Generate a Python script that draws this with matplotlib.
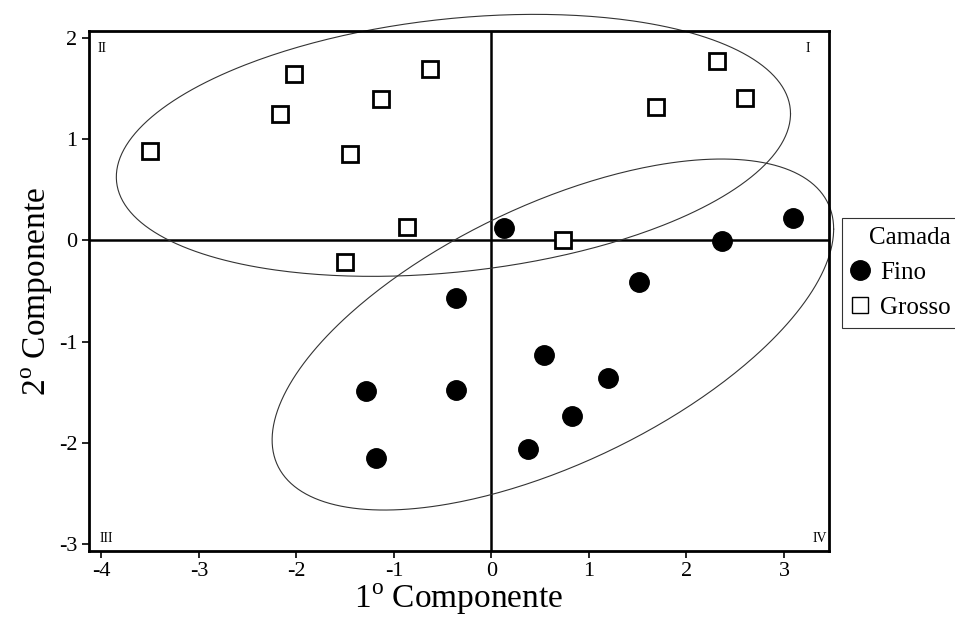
import numpy as np
import matplotlib.pyplot as plt

plt.rcParams['font.family'] = ['Liberation Serif', 'DejaVu Serif']
plt.rcParams['mathtext.fontset'] = 'custom'
plt.rcParams['mathtext.rm'] = 'Liberation Serif'
plt.rcParams['axes.unicode_minus'] = False

# Camada "Fino" (círculos cheios)
fino_x = [0.13, 3.09, 2.36, 1.51, -0.36, -1.29, -0.36, -1.18, 0.54, 1.20, 0.83, 0.37]
fino_y = [0.12, 0.22, -0.01, -0.41, -0.57, -1.49, -1.48, -2.15, -1.13, -1.36, -1.74, -2.06]

# Camada "Grosso" (quadrados vazios)
grosso_x = [-3.50, -2.02, -2.17, -0.63, -1.13, -1.45, -0.87, -1.50, 2.31, 2.60, 1.69, 0.73]
grosso_y = [0.88, 1.65, 1.25, 1.69, 1.40, 0.85, 0.13, -0.21, 1.77, 1.41, 1.32, 0.00]

# elipses (centro e matriz de covariância)
elip_grosso_centro = [-0.39, 0.94]
elip_grosso_cov = [[11.95, 1.08], [1.08, 1.677]]
elip_fino_centro = [0.63, -0.93]
elip_fino_cov = [[8.29, 3.0], [3.0, 3.01]]

x_ticks = [-4, -3, -2, -1, 0, 1, 2, 3]
y_ticks = [-3, -2, -1, 0, 1, 2]


def ellipse_points(center, cov, n=400):
    t = np.linspace(0, 2 * np.pi, n)
    L = np.linalg.cholesky(np.array(cov))
    pts = L @ np.vstack([np.cos(t), np.sin(t)])
    return center[0] + pts[0], center[1] + pts[1]


fig = plt.figure(figsize=(9.55, 6.21), dpi=100)
ax = fig.add_axes([0.0929, 0.1127, 0.775, 0.8373])

ax.set_xlim(-4.13, 3.46)
ax.set_ylim(-3.07, 2.07)

# eixos do plano
ax.axhline(0, color='black', lw=1.8, zorder=1)
ax.axvline(0, color='black', lw=1.8, zorder=1)

for centro, cov in [(elip_grosso_centro, elip_grosso_cov), (elip_fino_centro, elip_fino_cov)]:
    ex, ey = ellipse_points(centro, cov)
    ax.plot(ex, ey, color='#333333', lw=0.8, clip_on=False, zorder=2)

ax.plot(fino_x, fino_y, 'o', color='black', markersize=14, zorder=3)
ax.plot(grosso_x, grosso_y, 's', markerfacecolor='white', markeredgecolor='black',
        markeredgewidth=2.0, markersize=11, zorder=3)

# legenda fora do gráfico
h1, = ax.plot([], [], 'o', color='black', markersize=14)
h2, = ax.plot([], [], 's', markerfacecolor='white', markeredgecolor='black',
              markeredgewidth=1.0, markersize=12)
leg = fig.legend([h1, h2], ['Fino', 'Grosso'], title='Camada', loc='upper left',
                 bbox_to_anchor=(841.7 / 955, 1 - 218 / 621), borderaxespad=0,
                 fontsize=18, title_fontsize=18, frameon=True, fancybox=False,
                 edgecolor='black', handlelength=0.8, handletextpad=0.4,
                 labelspacing=0.5, borderpad=0.35)
leg.get_frame().set_linewidth(0.8)
leg._legend_box.align = 'right'

# rótulos dos quadrantes
ax.text(0.012, 0.978, 'II', transform=ax.transAxes, fontsize=10, va='top', ha='left')
ax.text(0.975, 0.978, 'I', transform=ax.transAxes, fontsize=10, va='top', ha='right')
ax.text(0.014, 0.012, 'III', transform=ax.transAxes, fontsize=10, va='bottom', ha='left')
ax.text(0.998, 0.012, 'IV', transform=ax.transAxes, fontsize=10, va='bottom', ha='right')

ax.set_xticks(x_ticks)
ax.set_yticks(y_ticks)
ax.tick_params(direction='out', length=5, width=1.2, labelsize=16, pad=3,
               top=False, right=False)
for s in ax.spines.values():
    s.set_linewidth(2.0)

ax.set_xlabel(r'1$^{\mathrm{o}}$ Componente', fontsize=24, labelpad=0)
ax.set_ylabel(r'2$^{\mathrm{o}}$ Componente', fontsize=24, labelpad=3)

fig.savefig('out.png', dpi=100)
